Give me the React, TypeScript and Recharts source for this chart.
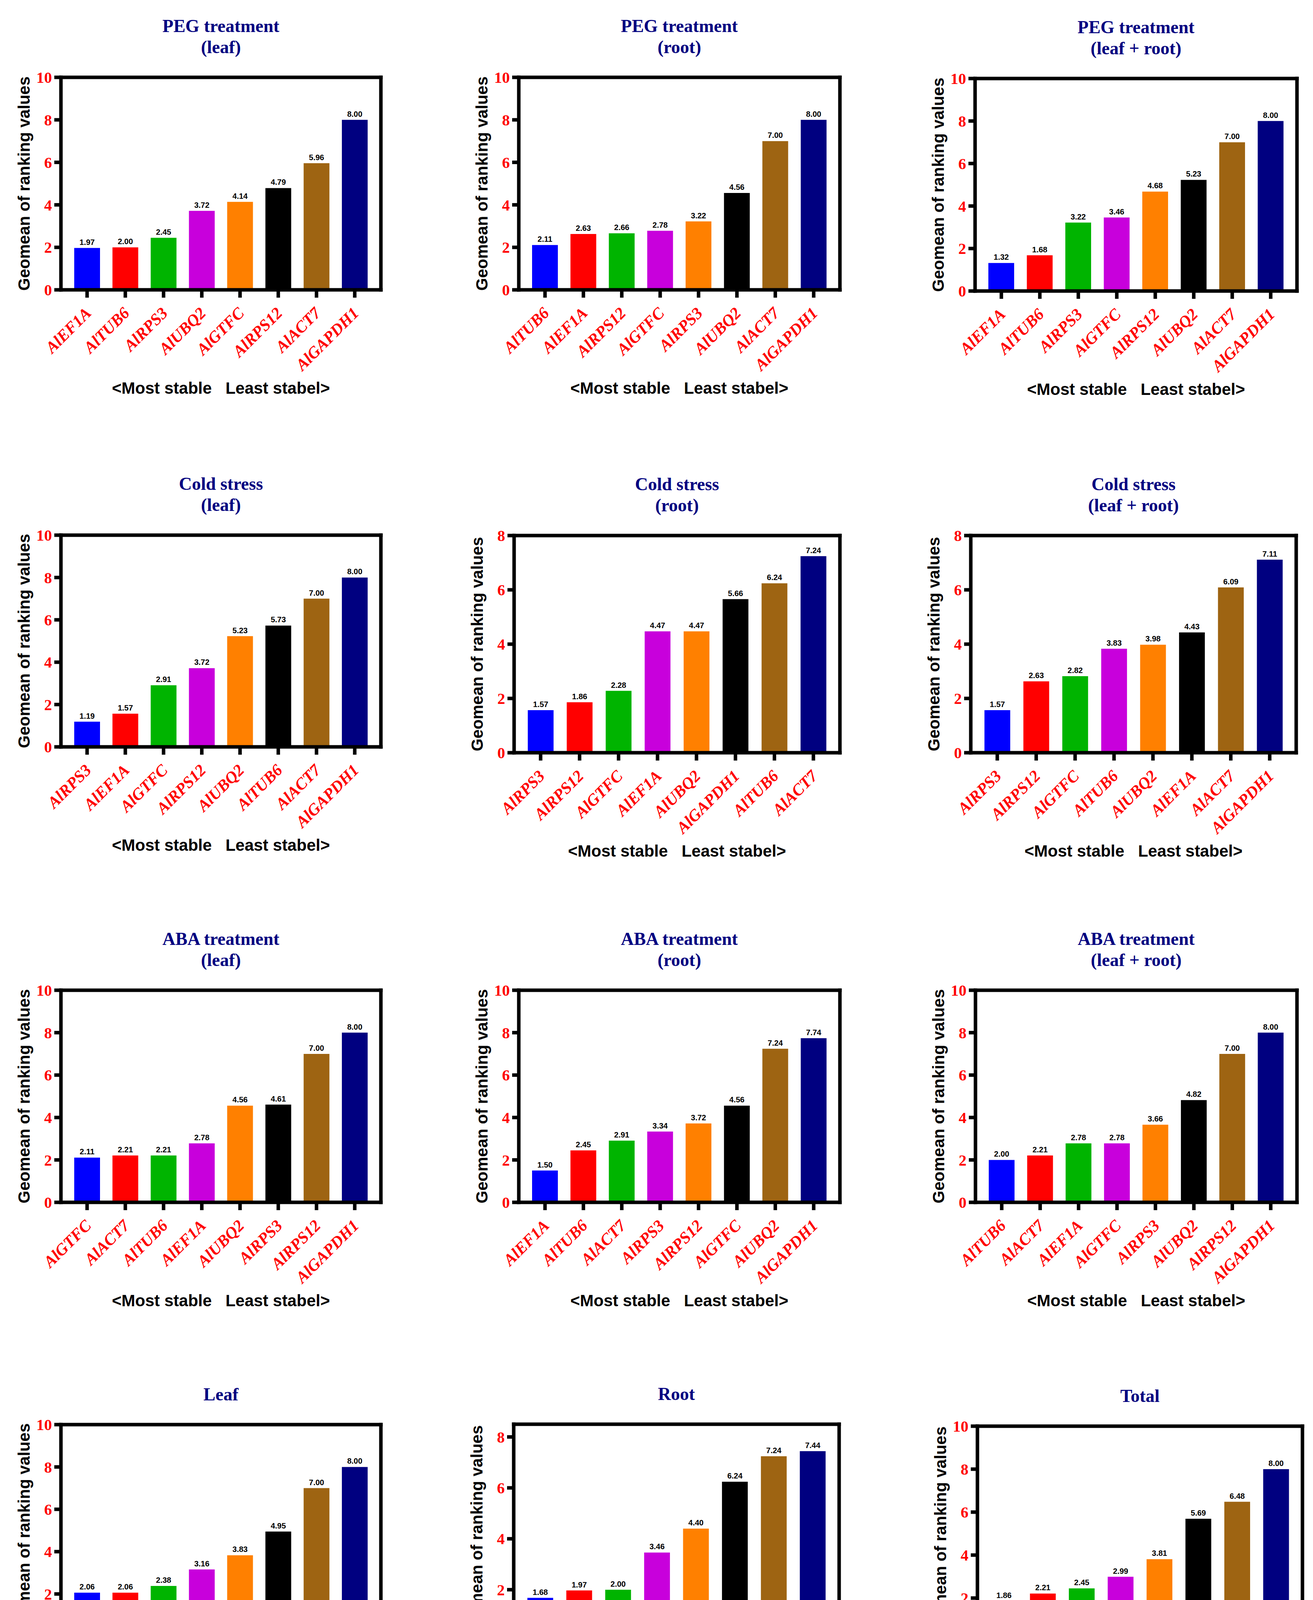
import React from 'react';
import { BarChart, Bar, XAxis, YAxis, Cell, LabelList, Label } from 'recharts';

const barColors = ['#0000FF', '#FF0000', '#00B400', '#C800DC', '#FF8000', '#000000', '#9E6412', '#000080'];

const ticks10 = [0, 2, 4, 6, 8, 10];
const ticks8 = [0, 2, 4, 6, 8];

const pegLeafGenes = ['AlEF1A', 'AlTUB6', 'AlRPS3', 'AlUBQ2', 'AlGTFC', 'AlRPS12', 'AlACT7', 'AlGAPDH1'];
const pegLeafValues = [1.97, 2.0, 2.45, 3.72, 4.14, 4.79, 5.96, 8.0];

const pegRootGenes = ['AlTUB6', 'AlEF1A', 'AlRPS12', 'AlGTFC', 'AlRPS3', 'AlUBQ2', 'AlACT7', 'AlGAPDH1'];
const pegRootValues = [2.11, 2.63, 2.66, 2.78, 3.22, 4.56, 7.0, 8.0];

const pegBothGenes = ['AlEF1A', 'AlTUB6', 'AlRPS3', 'AlGTFC', 'AlRPS12', 'AlUBQ2', 'AlACT7', 'AlGAPDH1'];
const pegBothValues = [1.32, 1.68, 3.22, 3.46, 4.68, 5.23, 7.0, 8.0];

const coldLeafGenes = ['AlRPS3', 'AlEF1A', 'AlGTFC', 'AlRPS12', 'AlUBQ2', 'AlTUB6', 'AlACT7', 'AlGAPDH1'];
const coldLeafValues = [1.19, 1.57, 2.91, 3.72, 5.23, 5.73, 7.0, 8.0];

const coldRootGenes = ['AlRPS3', 'AlRPS12', 'AlGTFC', 'AlEF1A', 'AlUBQ2', 'AlGAPDH1', 'AlTUB6', 'AlACT7'];
const coldRootValues = [1.57, 1.86, 2.28, 4.47, 4.47, 5.66, 6.24, 7.24];

const coldBothGenes = ['AlRPS3', 'AlRPS12', 'AlGTFC', 'AlTUB6', 'AlUBQ2', 'AlEF1A', 'AlACT7', 'AlGAPDH1'];
const coldBothValues = [1.57, 2.63, 2.82, 3.83, 3.98, 4.43, 6.09, 7.11];

const abaLeafGenes = ['AlGTFC', 'AlACT7', 'AlTUB6', 'AlEF1A', 'AlUBQ2', 'AlRPS3', 'AlRPS12', 'AlGAPDH1'];
const abaLeafValues = [2.11, 2.21, 2.21, 2.78, 4.56, 4.61, 7.0, 8.0];

const abaRootGenes = ['AlEF1A', 'AlTUB6', 'AlACT7', 'AlRPS3', 'AlRPS12', 'AlGTFC', 'AlUBQ2', 'AlGAPDH1'];
const abaRootValues = [1.5, 2.45, 2.91, 3.34, 3.72, 4.56, 7.24, 7.74];

const abaBothGenes = ['AlTUB6', 'AlACT7', 'AlEF1A', 'AlGTFC', 'AlRPS3', 'AlUBQ2', 'AlRPS12', 'AlGAPDH1'];
const abaBothValues = [2.0, 2.21, 2.78, 2.78, 3.66, 4.82, 7.0, 8.0];

const leafGenes = ['AlGTFC', 'AlEF1A', 'AlRPS3', 'AlUBQ2', 'AlTUB6', 'AlACT7', 'AlRPS12', 'AlGAPDH1'];
const leafValues = [2.06, 2.06, 2.38, 3.16, 3.83, 4.95, 7.0, 8.0];

const rootGenes = ['AlRPS3', 'AlEF1A', 'AlGTFC', 'AlUBQ2', 'AlRPS12', 'AlTUB6', 'AlACT7', 'AlGAPDH1'];
const rootValues = [1.68, 1.97, 2.0, 3.46, 4.4, 6.24, 7.24, 7.44];

const totalGenes = ['AlRPS3', 'AlGTFC', 'AlEF1A', 'AlUBQ2', 'AlTUB6', 'AlACT7', 'AlRPS12', 'AlGAPDH1'];
const totalValues = [1.86, 2.21, 2.45, 2.99, 3.81, 5.69, 6.48, 8.0];

const panels = [
  { title: ['PEG treatment', '(leaf)'], genes: pegLeafGenes, values: pegLeafValues, yMax: 10, ticks: ticks10 },
  { title: ['PEG treatment', '(root)'], genes: pegRootGenes, values: pegRootValues, yMax: 10, ticks: ticks10 },
  { title: ['PEG treatment', '(leaf + root)'], genes: pegBothGenes, values: pegBothValues, yMax: 10, ticks: ticks10 },
  { title: ['Cold stress', '(leaf)'], genes: coldLeafGenes, values: coldLeafValues, yMax: 10, ticks: ticks10 },
  { title: ['Cold stress', '(root)'], genes: coldRootGenes, values: coldRootValues, yMax: 8, ticks: ticks8 },
  { title: ['Cold stress', '(leaf + root)'], genes: coldBothGenes, values: coldBothValues, yMax: 8, ticks: ticks8 },
  { title: ['ABA treatment', '(leaf)'], genes: abaLeafGenes, values: abaLeafValues, yMax: 10, ticks: ticks10 },
  { title: ['ABA treatment', '(root)'], genes: abaRootGenes, values: abaRootValues, yMax: 10, ticks: ticks10 },
  { title: ['ABA treatment', '(leaf + root)'], genes: abaBothGenes, values: abaBothValues, yMax: 10, ticks: ticks10 },
  { title: ['Leaf'], genes: leafGenes, values: leafValues, yMax: 10, ticks: ticks10 },
  { title: ['Root'], genes: rootGenes, values: rootValues, yMax: 8.5, ticks: ticks8 },
  { title: ['Total'], genes: totalGenes, values: totalValues, yMax: 10, ticks: ticks10 },
];

// plot-area boxes on the page: [left, top, right, bottom]
const panelBoxes = [
  [156, 198, 975, 742],
  [1328, 198, 2150, 742],
  [2496, 201, 3320, 745],
  [156, 1370, 975, 1912],
  [1316, 1371, 2150, 1927],
  [2485, 1371, 3318, 1927],
  [156, 2535, 975, 3078],
  [1328, 2535, 2150, 3078],
  [2497, 2535, 3320, 3078],
  [156, 3647, 975, 4189],
  [1315, 3646, 2148, 4200],
  [2502, 3651, 3334, 4201],
];

const SERIF = "'Liberation Serif', 'Times New Roman', serif";
const SANS = "'Liberation Sans', Arial, sans-serif";
const NBSP = '\u00A0';
const bottomText = `<Most stable${NBSP}${NBSP}${NBSP}Least stabel>`;

const GeneTick = (props: any) => {
  const { x, y, payload } = props;
  return (
    <g transform={`translate(${x - 8},${y})`}>
      <text
        x={0}
        y={0}
        dy="0.71em"
        textAnchor="end"
        transform="rotate(-45)"
        fill="#FF0000"
        fontFamily={SERIF}
        fontWeight="bold"
        fontStyle="italic"
        fontSize={42}
      >
        {payload.value}
      </text>
    </g>
  );
};

const axisLineStyle = { stroke: '#000', strokeWidth: 9, strokeLinecap: 'square' as const };
const tickLineStyle = { stroke: '#000', strokeWidth: 9 };

function Panel({ spec, box }: { spec: any; box: number[] }) {
  const [L, T, R, B] = box;
  const plotW = R - L;
  const plotH = B - T;
  const mLeft = 10;
  const yW = 190;
  const mTop = 45;
  const mRight = 40;
  const xH = 285;
  const width = mLeft + yW + plotW + mRight;
  const height = mTop + plotH + xH;
  const data = spec.genes.map((g: string, i: number) => ({ gene: g, value: spec.values[i] }));
  const titleTop = T - (spec.title.length === 2 ? 158 : 104);
  const cx = (L + R) / 2;
  return (
    <>
      <div
        style={{
          position: 'absolute',
          left: cx - 400,
          width: 800,
          top: titleTop,
          textAlign: 'center',
          fontFamily: SERIF,
          fontWeight: 'bold',
          fontSize: 46,
          lineHeight: '54px',
          color: '#000080',
          whiteSpace: 'nowrap',
        }}
      >
        {spec.title.map((t: string) => (
          <div key={t}>{t}</div>
        ))}
      </div>
      <div style={{ position: 'absolute', left: L - mLeft - yW, top: T - mTop }}>
        <BarChart
          width={width}
          height={height}
          data={data}
          margin={{ top: mTop, right: mRight, bottom: 0, left: mLeft }}
        >
          <Bar dataKey="value" barSize={66} isAnimationActive={false}>
            {data.map((d: any, i: number) => (
              <Cell key={d.gene + i} fill={barColors[i]} />
            ))}
            <LabelList
              dataKey="value"
              position="top"
              offset={8}
              formatter={(v: any) => Number(v).toFixed(2)}
              fill="#000"
              fontSize={20}
              fontWeight="bold"
              fontFamily={SANS}
            />
          </Bar>
          <XAxis
            dataKey="gene"
            height={xH}
            interval={0}
            padding={{ left: 18, right: 18 }}
            axisLine={axisLineStyle}
            tickLine={tickLineStyle}
            tickSize={20}
            tickMargin={21}
            tick={<GeneTick />}
          >
            <Label
              value={bottomText}
              position="insideBottom"
              offset={19}
              fill="#000"
              fontSize={42}
              fontWeight="bold"
              fontFamily={SANS}
            />
          </XAxis>
          <XAxis
            xAxisId="top"
            dataKey="gene"
            orientation="top"
            mirror
            interval={0}
            padding={{ left: 18, right: 18 }}
            axisLine={axisLineStyle}
            tickLine={tickLineStyle}
            tickSize={20}
            tick={false}
          />
          <YAxis
            width={yW}
            domain={[0, spec.yMax]}
            ticks={spec.ticks}
            interval={0}
            allowDataOverflow
            axisLine={axisLineStyle}
            tickLine={tickLineStyle}
            tickSize={17}
            tickMargin={6}
            tick={{ fill: '#FF0000', fontSize: 40, fontFamily: SERIF, fontWeight: 'bold' }}
          >
            <Label
              value="Geomean of ranking values"
              angle={-90}
              position="center"
              fill="#000"
              fontSize={42}
              fontWeight="bold"
              fontFamily={SANS}
            />
          </YAxis>
          <YAxis
            yAxisId="right"
            orientation="right"
            mirror
            domain={[0, spec.yMax]}
            ticks={spec.ticks}
            interval={0}
            allowDataOverflow
            axisLine={axisLineStyle}
            tickLine={tickLineStyle}
            tickSize={18}
            tick={false}
          />
        </BarChart>
      </div>
    </>
  );
}

export default function App() {
  return (
    <div
      style={{
        position: 'absolute',
        left: 0,
        top: 0,
        width: 3361,
        height: 4506,
        background: '#fff',
        overflow: 'hidden',
      }}
    >
      {panels.map((p, i) => (
        <Panel key={i} spec={p} box={panelBoxes[i]} />
      ))}
    </div>
  );
}
